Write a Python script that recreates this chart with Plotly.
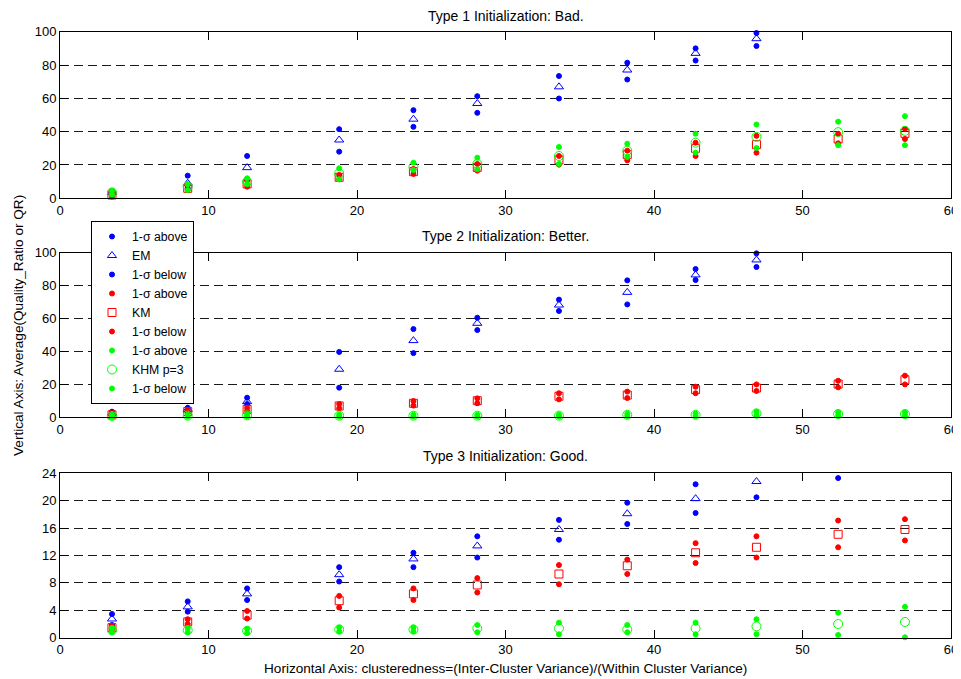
import plotly.graph_objects as go
from plotly.subplots import make_subplots

# ---------------- data ----------------
clusteredness = [3.5, 8.6, 12.6, 18.8, 23.8, 28.1, 33.6, 38.2, 42.8, 46.9, 52.4, 56.9]

# Type 1 Initialization: Bad.
em_above_1 = [4.5, 13.6, 25.4, 41.5, 52.9, 61.3, 73.4, 81.4, 90.0, 99.2, None, None]
em_1 = [3.5, 9.0, 18.4, 35.0, 47.5, 56.9, 66.9, 77.0, 87.0, 95.8, None, None]
em_below_1 = [2.5, 6.0, 11.0, 28.0, 42.9, 51.3, 59.9, 71.3, 82.7, 91.4, None, None]
km_above_1 = [3.0, 8.0, 11.0, 14.0, 17.6, 20.6, 25.4, 28.6, 33.4, 37.5, 38.8, 41.7]
km_1 = [2.0, 6.0, 8.6, 12.6, 16.0, 18.6, 23.0, 26.2, 30.0, 32.2, 35.6, 39.0]
km_below_1 = [1.0, 5.0, 7.0, 11.4, 14.6, 16.6, 20.2, 22.8, 25.4, 27.4, 33.0, 35.6]
khm_above_1 = [4.5, 8.5, 12.0, 18.0, 21.4, 24.4, 30.8, 32.8, 38.8, 44.3, 46.0, 49.3]
khm_1 = [3.5, 7.0, 10.0, 15.0, 19.0, 20.6, 25.4, 28.6, 33.4, 36.9, 39.7, 40.5]
khm_below_1 = [2.5, 5.0, 8.6, 11.4, 17.0, 17.4, 20.6, 24.8, 27.4, 30.2, 31.9, 31.9]

# Type 2 Initialization: Better.
em_above_2 = [3.4, 5.8, 11.9, 39.7, 53.6, 60.5, 71.5, 83.2, 90.1, 99.6, None, None]
em_2 = [2.5, 4.8, 9.5, 29.2, 46.6, 57.1, 68.2, 75.9, 86.5, 95.6, None, None]
em_below_2 = [1.5, 3.4, 8.1, 18.0, 39.0, 53.0, 64.6, 68.6, 83.4, 91.3, None, None]
km_above_2 = [2.0, 4.4, 5.8, 8.1, 9.9, 11.5, 14.6, 15.6, 18.6, 20.0, 22.2, 25.3]
km_2 = [1.5, 3.5, 4.8, 6.9, 8.5, 10.1, 12.8, 13.5, 16.8, 17.8, 20.2, 22.8]
km_below_2 = [1.0, 2.5, 3.8, 5.5, 7.1, 8.5, 10.9, 11.7, 14.6, 16.0, 18.2, 20.0]
khm_above_2 = [1.5, 1.5, 1.8, 1.6, 1.6, 1.6, 1.6, 2.2, 2.2, 3.4, 3.0, 3.0]
khm_2 = [0.8, 1.0, 1.2, 1.0, 1.0, 1.0, 1.0, 1.5, 1.5, 2.4, 2.0, 2.0]
khm_below_2 = [0.3, 0.5, 0.6, 0.5, 0.5, 0.5, 0.5, 0.8, 0.8, 1.0, 1.0, 1.0]

# Type 3 Initialization: Good.
em_above_3 = [3.46, 5.3, 7.2, 10.3, 12.4, 14.8, 17.2, 19.7, 22.4, None, None, None]
em_3 = [2.73, 4.5, 6.4, 9.2, 11.5, 13.4, 15.8, 18.1, 20.3, 22.8, None, None]
em_below_3 = [1.85, 3.8, 5.5, 8.2, 10.3, 11.7, 14.3, 16.6, 18.2, 20.5, 23.3, None]
km_above_3 = [1.7, 2.7, 3.9, 6.1, 7.2, 8.7, 10.6, 11.4, 13.8, 14.8, 17.1, 17.3]
km_3 = [1.46, 2.3, 3.3, 5.4, 6.4, 7.7, 9.3, 10.5, 12.4, 13.2, 15.1, 15.8]
km_below_3 = [1.2, 2.0, 2.8, 4.4, 5.5, 6.6, 7.8, 9.3, 10.9, 11.7, 13.2, 14.2]
khm_above_3 = [1.4, 1.4, 1.3, 1.5, 1.5, 1.85, 2.2, 1.85, 2.2, 2.7, 3.65, 4.5]
khm_3 = [1.1, 1.1, 1.0, 1.2, 1.2, 1.37, 1.37, 1.2, 1.37, 1.66, 2.0, 2.3]
khm_below_3 = [0.8, 0.8, 0.7, 0.9, 0.9, 0.8, 0.5, 0.8, 0.5, 0.5, 0.4, 0.06]

panel_titles = ["Type 1 Initialization: Bad.",
                "Type 2 Initialization: Better.",
                "Type 3 Initialization: Good."]
series_names = ["1-σ above", "EM", "1-σ below",
                "1-σ above", "KM", "1-σ below",
                "1-σ above", "KHM p=3", "1-σ below"]
x_ticks = [0, 10, 20, 30, 40, 50, 60]
y_ticks_12 = [0, 20, 40, 60, 80, 100]
y_ticks_3 = [0, 4, 8, 12, 16, 20, 24]
x_title = "Horizontal Axis: clusteredness=(Inter-Cluster Variance)/(Within Cluster Variance)"
y_title = "Vertical Axis: Average(Quality_Ratio or QR)"

panels = [
    [em_above_1, em_1, em_below_1, km_above_1, km_1, km_below_1, khm_above_1, khm_1, khm_below_1],
    [em_above_2, em_2, em_below_2, km_above_2, km_2, km_below_2, khm_above_2, khm_2, khm_below_2],
    [em_above_3, em_3, em_below_3, km_above_3, km_3, km_below_3, khm_above_3, khm_3, khm_below_3],
]

# ---------------- styles ----------------
BLUE, RED, GREEN = "#0000FF", "#FF0000", "#00FF00"
styles = [
    dict(color=BLUE, symbol="circle", size=5),
    dict(color=BLUE, symbol="triangle-up-open", size=8),
    dict(color=BLUE, symbol="circle", size=5),
    dict(color=RED, symbol="circle", size=5),
    dict(color=RED, symbol="square-open", size=8),
    dict(color=RED, symbol="circle", size=5),
    dict(color=GREEN, symbol="circle", size=5),
    dict(color=GREEN, symbol="circle-open", size=9),
    dict(color=GREEN, symbol="circle", size=5),
]

FONT = "Arial, Liberation Sans, Helvetica, sans-serif"
OFF = 8                      # page body margin in the browser
W, H = 961 - OFF, 679 - OFF  # figure size so it fits the window exactly
PLOT_L, PLOT_R = 60, 951     # plot area, window pixels
ML = PLOT_L - OFF
MR = W - (PLOT_R - OFF)
PW = W - ML - MR


def fy(p):
    """window pixel row -> paper fraction"""
    return 1 - (p - OFF) / H


def fx(p):
    """window pixel column -> paper fraction"""
    return (p - PLOT_L) / PW


fig = make_subplots(rows=3, cols=1)

for p, series in enumerate(panels):
    for k, ys in enumerate(series):
        st = styles[k]
        fig.add_trace(go.Scatter(
            x=clusteredness, y=ys, mode="markers",
            name=series_names[k],
            showlegend=(p == 0),
            cliponaxis=False,
            marker=dict(color=st["color"], symbol=st["symbol"], size=st["size"],
                        line=dict(color=st["color"], width=1)),
        ), row=p + 1, col=1)

# window pixel positions (top, bottom) of each plot area
panel_px = [(31.7, 198.3), (252.7, 417.3), (473.3, 637.7)]
title_px = [15.7, 235.5, 456]
y_ranges = [[0, 100], [0, 100], [0, 24]]
y_tickvals = [y_ticks_12, y_ticks_12, y_ticks_3]

common_axis = dict(
    showline=True, linecolor="black", linewidth=1, mirror="ticks",
    ticks="inside", ticklen=8, tickcolor="black", tickwidth=1,
    zeroline=False, automargin=False,
    tickfont=dict(family=FONT, size=13, color="black"),
)

for i in range(3):
    top, bot = panel_px[i]
    yaxis_name = "yaxis" if i == 0 else f"yaxis{i + 1}"
    xaxis_name = "xaxis" if i == 0 else f"xaxis{i + 1}"
    fig.layout[yaxis_name].update(
        domain=[fy(bot), fy(top)], range=y_ranges[i],
        tickvals=y_tickvals[i], showgrid=True, gridcolor="#1a1a1a",
        gridwidth=1, griddash="9px,5px", **common_axis)
    fig.layout[xaxis_name].update(
        domain=[0, 1], range=[0, 60], tickvals=x_ticks, showgrid=False,
        **common_axis)
    fig.add_annotation(text=panel_titles[i], xref="paper", yref="paper",
                       x=0.5, y=fy(title_px[i]), xanchor="center",
                       yanchor="middle", showarrow=False,
                       font=dict(family=FONT, size=14, color="black"))

fig.add_annotation(text=x_title, xref="paper", yref="paper",
                   x=0.5, y=fy(668), xanchor="center", yanchor="middle",
                   showarrow=False, font=dict(family=FONT, size=13.6, color="black"))
fig.add_annotation(text=y_title, xref="paper", yref="paper",
                   x=fx(18), y=fy(326),
                   xanchor="center", yanchor="middle", textangle=-90,
                   showarrow=False, font=dict(family=FONT, size=13.6, color="black"))

fig.update_layout(
    width=W, height=H,
    margin=dict(l=ML, r=MR, t=0, b=0, pad=0, autoexpand=False),
    paper_bgcolor="white", plot_bgcolor="white",
    font=dict(family=FONT, size=13, color="black"),
    legend=dict(x=fx(91), y=fy(221),
                xanchor="left", yanchor="top",
                bgcolor="white", bordercolor="black", borderwidth=1,
                font=dict(family=FONT, size=12.3, color="black"),
                tracegroupgap=0),
)

fig.write_html("out.html")
